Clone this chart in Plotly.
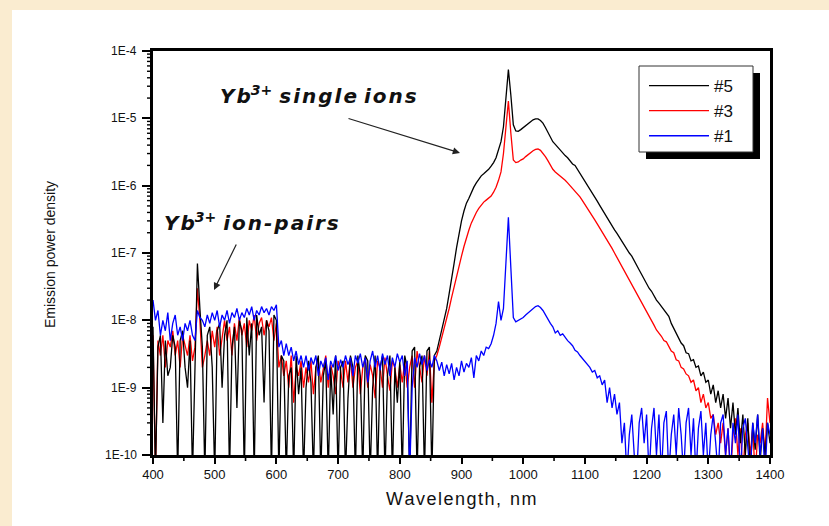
import math
import plotly.graph_objects as go

# Wavelength grid (nm), 4 nm steps
wavelength = list(range(400, 1401, 4))

# Sample #5 (black)
s5 = [
    8e-9, 5e-11, 4e-9, 6e-9, 3e-10, 5e-9, 1.5e-9, 2e-9, 6e-9, 4e-9,         # 400
    5e-11, 5e-9, 7e-9, 2e-9, 1e-9, 5e-9, 5e-11, 3e-9, 7e-8, 1.5e-8,         # 440
    4e-9, 5e-11, 6e-9, 8e-9, 2e-9, 5e-11, 7e-9, 9e-9, 1e-9, 6e-9,           # 480
    1e-8, 5e-11, 4e-9, 8e-9, 5e-10, 1e-8, 7e-9, 5e-11, 1.1e-8, 3e-9,        # 520
    9e-9, 5e-11, 1.2e-8, 6e-9, 8e-9, 6e-10, 1e-8, 7e-9, 5e-11, 1.2e-8,      # 560
    1e-8, 5e-11, 3e-9, 2.5e-9, 5e-11, 1.5e-9, 2e-9, 5e-11, 3e-9, 8e-10,     # 600
    2e-9, 5e-11, 1e-9, 2.5e-9, 1.2e-9, 5e-11, 2e-9, 3e-9, 5e-11, 1.5e-9,    # 640
    2.5e-9, 5e-11, 2e-9, 4e-10, 3e-9, 5e-11, 2e-9, 2.5e-9, 5e-11, 7e-10,    # 680
    3e-9, 2e-9, 5e-11, 3e-9, 1.5e-9, 5e-11, 3e-9, 2.5e-9, 5e-11, 1e-9,      # 720
    3e-9, 5e-11, 2e-9, 3e-9, 5e-11, 1.5e-9, 3e-9, 5e-11, 2e-9, 6e-10,       # 760
    2.5e-9, 5e-11, 3e-9, 2e-9, 5e-11, 3.5e-9, 4e-9, 5e-11, 2e-9, 3e-9,      # 800
    5e-11, 3.5e-9, 4e-9, 5e-11, 3e-9, 3.5e-9, 5e-9, 7e-9, 1e-8, 1.5e-8,     # 840
    2.5e-8, 4e-8, 7e-8, 1.2e-7, 2e-7, 3e-7, 4.2e-7, 5.5e-7, 6.5e-7, 8e-7,   # 880
    9.5e-7, 1.1e-6, 1.25e-6, 1.4e-6, 1.5e-6, 1.6e-6, 1.75e-6, 1.95e-6, 2.2e-6, 2.6e-6,  # 920
    3.3e-6, 4.5e-6, 7.5e-6, 2e-5, 5.3e-5, 2.2e-5, 8e-6, 6.5e-6, 6.4e-6, 6.8e-6,        # 960
    7.3e-6, 7.8e-6, 8.4e-6, 9e-6, 9.5e-6, 9.8e-6, 9.8e-6, 9.3e-6, 8.5e-6, 7.3e-6,      # 1000
    6.2e-6, 5.2e-6, 4.5e-6, 4.1e-6, 3.7e-6, 3.4e-6, 3.1e-6, 2.8e-6, 2.6e-6, 2.3e-6,    # 1040
    2.1e-6, 2e-6, 1.75e-6, 1.55e-6, 1.35e-6, 1.2e-6, 1.05e-6, 9e-7, 7.8e-7, 6.8e-7,    # 1080
    5.9e-7, 5.1e-7, 4.4e-7, 3.8e-7, 3.3e-7, 2.85e-7, 2.5e-7, 2.2e-7, 1.95e-7, 1.7e-7,  # 1120
    1.5e-7, 1.3e-7, 1.15e-7, 1e-7, 9e-8, 7.8e-8, 6.6e-8, 5.6e-8, 4.8e-8, 4.1e-8,      # 1160
    3.5e-8, 3e-8, 2.7e-8, 2.3e-8, 2e-8, 1.8e-8, 1.6e-8, 1.4e-8, 1.3e-8, 1.15e-8,      # 1200
    9e-9, 7.6e-9, 6.3e-9, 5.3e-9, 4.6e-9, 4.2e-9, 3.3e-9, 3.2e-9, 2.5e-9, 2.6e-9,     # 1240
    2e-9, 2.1e-9, 1.5e-9, 1.7e-9, 1.2e-9, 1.3e-9, 8e-10, 1.1e-9, 6e-10, 9e-10,       # 1280
    5e-10, 8e-10, 3.5e-10, 7e-10, 2.5e-10, 6e-10, 2e-10, 5e-10, 1.5e-10, 4e-10,      # 1320
    1e-10, 3.5e-10, 5e-11, 3e-10, 1.2e-10, 4e-10, 8e-11, 2.5e-10, 1e-10, 3e-10,      # 1360
    1.5e-10,                                                                          # 1400
]

# Sample #3 (red)
s3 = [
    6e-9, 5e-11, 5e-9, 3e-9, 6e-9, 2e-9, 5e-9, 4e-9, 7e-9, 3e-9,            # 400
    5e-9, 2e-9, 6e-9, 4e-9, 3e-9, 6e-9, 2.5e-9, 4e-9, 3e-8, 1e-8,           # 440
    2e-9, 3e-9, 5e-9, 3e-9, 7e-9, 4e-9, 8e-9, 3e-9, 6e-9, 1e-8,            # 480
    5e-9, 8e-9, 3e-9, 9e-9, 5e-9, 1.1e-8, 6e-9, 9e-9, 4e-9, 1e-8,          # 520
    7e-9, 1.2e-8, 5e-9, 9e-9, 1.1e-8, 6e-9, 1e-8, 8e-9, 1.1e-8, 5e-9,      # 560
    9e-9, 2e-9, 3e-9, 1.5e-9, 2.5e-9, 1e-9, 3e-9, 6e-10, 2e-9, 1.5e-9,     # 600
    2.5e-9, 1e-9, 2e-9, 1.2e-9, 2.5e-9, 8e-10, 2e-9, 2.5e-9, 1.2e-9, 2e-9, # 640
    3e-9, 1e-9, 2.2e-9, 1.5e-9, 8e-10, 2.5e-9, 1.8e-9, 1e-9, 2.5e-9, 1.2e-9,  # 680
    2.8e-9, 1e-9, 2e-9, 2.5e-9, 8e-10, 2e-9, 2.8e-9, 1e-9, 2.2e-9, 1.5e-9,    # 720
    7e-10, 2.5e-9, 2e-9, 1e-9, 2.8e-9, 1.5e-9, 9e-10, 2.5e-9, 2e-9, 1e-9,     # 760
    2.2e-9, 1.2e-9, 2.5e-9, 1e-9, 2e-9, 3e-9, 1e-9, 3.5e-9, 2e-9, 1.2e-9,     # 800
    3e-9, 1.5e-9, 3.5e-9, 6e-10, 2.5e-9, 3e-9, 4e-9, 5.5e-9, 7.5e-9, 1e-8,    # 840
    1.5e-8, 2.2e-8, 3.2e-8, 4.5e-8, 6.5e-8, 9e-8, 1.25e-7, 1.7e-7, 2.2e-7, 2.8e-7,  # 880
    3.4e-7, 4e-7, 4.6e-7, 5.2e-7, 5.7e-7, 6.1e-7, 6.5e-7, 7e-7, 8e-7, 9.5e-7,      # 920
    1.2e-6, 1.6e-6, 3e-6, 8e-6, 1.8e-5, 6e-6, 2.4e-6, 2.2e-6, 2.25e-6, 2.4e-6,     # 960
    2.5e-6, 2.7e-6, 2.9e-6, 3.1e-6, 3.3e-6, 3.45e-6, 3.5e-6, 3.35e-6, 3.05e-6, 2.7e-6,  # 1000
    2.35e-6, 2e-6, 1.75e-6, 1.6e-6, 1.5e-6, 1.4e-6, 1.3e-6, 1.2e-6, 1.1e-6, 1e-6,  # 1040
    9.2e-7, 8.4e-7, 7.6e-7, 6.8e-7, 6e-7, 5.3e-7, 4.6e-7, 4e-7, 3.5e-7, 3.1e-7,    # 1080
    2.7e-7, 2.35e-7, 2.05e-7, 1.8e-7, 1.6e-7, 1.37e-7, 1.17e-7, 1e-7, 8.6e-8, 7.3e-8,  # 1120
    6.2e-8, 5.3e-8, 4.5e-8, 3.9e-8, 3.3e-8, 2.9e-8, 2.5e-8, 2.15e-8, 1.85e-8, 1.6e-8,  # 1160
    1.4e-8, 1.2e-8, 1e-8, 8.5e-9, 7.2e-9, 6.5e-9, 5.8e-9, 5e-9, 4.8e-9, 4.1e-9,     # 1200
    3.5e-9, 3.3e-9, 2.6e-9, 2.5e-9, 2e-9, 1.9e-9, 1.6e-9, 1.5e-9, 1.2e-9, 1.3e-9,   # 1240
    9e-10, 1e-9, 6e-10, 8e-10, 5e-10, 6e-10, 3.5e-10, 4e-10, 2e-10, 3e-10,         # 1280
    1.5e-10, 3e-10, 1e-10, 2.5e-10, 5e-11, 2e-10, 3.5e-10, 1e-10, 2.5e-10, 5e-11,  # 1320
    2e-10, 3e-10, 1e-10, 2.5e-10, 5e-11, 2e-10, 1.5e-10, 3e-10, 1e-10, 7e-10,      # 1360
    3e-10,                                                                          # 1400
]

# Sample #1 (blue)
s1 = [
    2e-8, 1e-8, 1.4e-8, 6e-9, 1e-8, 7e-9, 1.3e-8, 5e-9, 9e-9, 1.2e-8,       # 400
    6e-9, 8e-9, 5e-9, 9e-9, 7e-9, 1e-8, 6e-9, 5e-9, 1.4e-8, 1.1e-8,         # 440
    1e-8, 8e-9, 1.2e-8, 9e-9, 1.3e-8, 1e-8, 1.4e-8, 8e-9, 1.2e-8, 1e-8,     # 480
    1.4e-8, 9e-9, 1.3e-8, 1.1e-8, 1.5e-8, 1e-8, 1.3e-8, 1.1e-8, 1.5e-8, 1.2e-8,  # 520
    1.6e-8, 1e-8, 1.4e-8, 1.2e-8, 1.6e-8, 1.3e-8, 1.5e-8, 1.2e-8, 1.6e-8, 1.4e-8,  # 560
    1.7e-8, 4e-9, 5e-9, 3e-9, 4.5e-9, 3e-9, 4e-9, 2.5e-9, 3.5e-9, 2.2e-9,   # 600
    3e-9, 2e-9, 3e-9, 1.8e-9, 2.8e-9, 2.2e-9, 3e-9, 1.5e-9, 2.5e-9, 2e-9,   # 640
    2.8e-9, 1.3e-9, 2.5e-9, 2e-9, 3e-9, 1.8e-9, 2.6e-9, 2e-9, 3e-9, 2.2e-9, # 680
    2.8e-9, 1.5e-9, 3e-9, 2.3e-9, 3.2e-9, 2e-9, 2.8e-9, 1.2e-9, 2.5e-9, 3.5e-9,  # 720
    2e-9, 3e-9, 1.8e-9, 3.2e-9, 2.2e-9, 3e-9, 1.5e-9, 2.8e-9, 2e-9, 3.2e-9,      # 760
    2.4e-9, 3e-9, 1.5e-9, 2.5e-9, 5e-11, 1e-9, 2.8e-9, 2e-9, 3.2e-9, 2.2e-9,     # 800
    3e-9, 1.8e-9, 2.6e-9, 2e-9, 3e-9, 2.5e-9, 1.8e-9, 2.4e-9, 1.5e-9, 2.2e-9,    # 840
    1.6e-9, 2.3e-9, 1.3e-9, 2e-9, 1.5e-9, 2.5e-9, 1.7e-9, 2.3e-9, 2e-9, 2.8e-9,  # 880
    1.4e-9, 3e-9, 2.5e-9, 3.5e-9, 3e-9, 4e-9, 3.8e-9, 4.5e-9, 6e-9, 9e-9,        # 920
    1.9e-8, 1e-8, 1.5e-8, 8e-8, 3.4e-7, 6e-8, 1.1e-8, 9.5e-9, 1e-8, 1.05e-8,     # 960
    1.1e-8, 1.2e-8, 1.3e-8, 1.4e-8, 1.5e-8, 1.6e-8, 1.65e-8, 1.55e-8, 1.4e-8, 1.2e-8,  # 1000
    1e-8, 9e-9, 8e-9, 6.5e-9, 7e-9, 6e-9, 6.3e-9, 5.5e-9, 5e-9, 4.6e-9,          # 1040
    4.2e-9, 3.6e-9, 3.4e-9, 3e-9, 2.7e-9, 2.4e-9, 2.2e-9, 2e-9, 1.7e-9, 1.8e-9,  # 1080
    1.4e-9, 1.5e-9, 1.1e-9, 1.3e-9, 6e-10, 1e-9, 5e-10, 8e-10, 4e-10, 6e-10,     # 1120
    1.5e-10, 3e-10, 5e-11, 2e-10, 4e-10, 1e-10, 5e-11, 3e-10, 5e-10, 1.5e-10,    # 1160
    4e-10, 5e-11, 2.5e-10, 5e-10, 1e-10, 4e-10, 5e-11, 3e-10, 4.5e-10, 5e-11,    # 1200
    2e-10, 4e-10, 1e-10, 5e-10, 2e-10, 5e-11, 3e-10, 5e-10, 1e-10, 3.5e-10,      # 1240
    5e-11, 2.5e-10, 4.5e-10, 1e-10, 3e-10, 5e-11, 2e-10, 4e-10, 1.5e-10, 5e-11,  # 1280
    3e-10, 4e-10, 1e-10, 2.5e-10, 5e-11, 3e-10, 1.5e-10, 4e-10, 5e-11, 2.5e-10,  # 1320
    3.5e-10, 1e-10, 5e-11, 3e-10, 1.5e-10, 4e-10, 1e-10, 2.5e-10, 5e-11, 3e-10,  # 1360
    2e-10,                                                                        # 1400
]

series_names = ["#5", "#3", "#1"]
series_colors = ["#000000", "#ff0000", "#0000ff"]

x_ticks = [400, 500, 600, 700, 800, 900, 1000, 1100, 1200, 1300, 1400]
y_ticks = [1e-10, 1e-9, 1e-8, 1e-7, 1e-6, 1e-5, 1e-4]
y_ticktext = ["1E-10", "1E-9", "1E-8", "1E-7", "1E-6", "1E-5", "1E-4"]

assert len(s5) == len(s3) == len(s1) == len(wavelength)

W, H = 829, 526
L, R, T, B = 153, 59, 51, 71
pw, ph = W - L - R, H - T - B
XMIN, XMAX = 400, 1400
YMIN, YMAX = -10, -4


def px(xp):
    return (xp - L) / pw


def py(yp):
    return (H - B - yp) / ph


fig = go.Figure()
# draw order: red, black, blue (legend order #5, #3, #1)
for ys, name, col, rank in [(s3, series_names[1], series_colors[1], 2),
                            (s5, series_names[0], series_colors[0], 1),
                            (s1, series_names[2], series_colors[2], 3)]:
    fig.add_trace(go.Scatter(x=wavelength, y=ys, mode="lines", name=name,
                             line=dict(color=col, width=1.3), legendrank=rank))

font_main = "Liberation Sans, Arial, sans-serif"
txt = "#111"

fig.update_layout(
    width=W, height=H,
    margin=dict(l=L, r=R, t=T, b=B),
    paper_bgcolor="#faecd0",
    plot_bgcolor="white",
    showlegend=True,
    legend=dict(x=px(644), y=py(68), xanchor="left", yanchor="top",
                bgcolor="rgba(0,0,0,0)", borderwidth=0,
                font=dict(family=font_main, size=17, color=txt),
                itemwidth=60, tracegroupgap=0),
    font=dict(family=font_main, color=txt),
)

fig.update_xaxes(
    range=[XMIN, XMAX], tickvals=x_ticks, ticks="outside",
    ticklen=6, tickwidth=2, tickcolor="black", showline=True, linecolor="black",
    linewidth=2.5, mirror=True, showgrid=False, zeroline=False,
    tickfont=dict(size=13, family=font_main, color=txt),
)
fig.update_yaxes(
    type="log", range=[YMIN, YMAX], tickvals=y_ticks, ticks="outside",
    ticklen=8, tickwidth=2, tickcolor="black", showline=True, linecolor="black",
    linewidth=2.5, mirror=True, showgrid=False, zeroline=False, showticklabels=False,
)

shapes = [
    # white page panel
    dict(type="rect", xref="paper", yref="paper", x0=px(12), x1=px(829), y0=py(526), y1=py(10),
         fillcolor="white", line=dict(width=0), layer="below"),
    # legend shadow
    dict(type="rect", xref="paper", yref="paper", x0=px(646), x1=px(760), y0=py(159), y1=py(73),
         fillcolor="black", line=dict(width=0), layer="above"),
    # legend box
    dict(type="rect", xref="paper", yref="paper", x0=px(639), x1=px(753), y0=py(152), y1=py(66),
         fillcolor="white", line=dict(color="#333", width=1), layer="above"),
]
# minor ticks on x (midway between labelled ticks)
for a, b in zip(x_ticks[:-1], x_ticks[1:]):
    xm = ((a + b) / 2 - XMIN) / (XMAX - XMIN)
    shapes.append(dict(type="line", xref="paper", yref="paper", x0=xm, x1=xm,
                       y0=-1.0 / ph, y1=-6 / ph, line=dict(color="black", width=1.6),
                       layer="above"))
# minor ticks on log y (2..9 in every decade)
for v in y_ticks[:-1]:
    for k in range(2, 10):
        ym = (math.log10(k * v) - YMIN) / (YMAX - YMIN)
        shapes.append(dict(type="line", xref="paper", yref="paper", x0=-1.0 / pw, x1=-6 / pw,
                           y0=ym, y1=ym, line=dict(color="black", width=1.4),
                           layer="above"))
fig.update_layout(shapes=shapes)

annotations = []
# y tick labels
for v, t in zip(y_ticks, y_ticktext):
    annotations.append(dict(text=t, xref="paper", yref="paper", x=px(139),
                            y=(math.log10(v) - YMIN) / (YMAX - YMIN),
                            xanchor="right", yanchor="middle", showarrow=False,
                            font=dict(size=12, family=font_main, color=txt)))

hs = "\u200a"
annotations += [
    dict(text="Emission power density", xref="paper", yref="paper", x=px(50), y=py(255),
         xanchor="center", yanchor="middle",
         textangle=-90, showarrow=False, font=dict(size=14, family=font_main, color=txt)),
    dict(text=hs.join("Wavelength,") + "\u2002" + hs.join("nm"),
         xref="paper", yref="paper", x=px(461), y=py(499), xanchor="center", yanchor="middle",
         showarrow=False, font=dict(size=18, family=font_main, color=txt)),
    dict(text="<b><i>" + hs.join("Yb") + "<sup>3+</sup> " + hs.join("single") + " " + hs.join("ions") + "</i></b>",
         xref="paper", yref="paper", x=px(318), y=py(95), xanchor="center", yanchor="middle",
         showarrow=False, font=dict(size=20, family="DejaVu Sans, sans-serif", color=txt)),
    dict(text="<b><i>" + hs.join("Yb") + "<sup>3+</sup> " + hs.join("ion-pairs") + "</i></b>",
         xref="paper", yref="paper", x=px(251), y=py(222), xanchor="center", yanchor="middle",
         showarrow=False, font=dict(size=20, family="DejaVu Sans, sans-serif", color=txt)),
    dict(text="", xref="paper", yref="paper", x=px(460), y=py(153), ax=347 - 460, ay=118 - 153,
         showarrow=True, arrowhead=2, arrowsize=1.2, arrowwidth=1.2, arrowcolor="#222"),
    dict(text="", xref="paper", yref="paper", x=px(214), y=py(290), ax=237 - 214, ay=243 - 290,
         showarrow=True, arrowhead=2, arrowsize=1.2, arrowwidth=1.2, arrowcolor="#222"),
]
fig.update_layout(annotations=annotations)

fig.write_html("out.html")
